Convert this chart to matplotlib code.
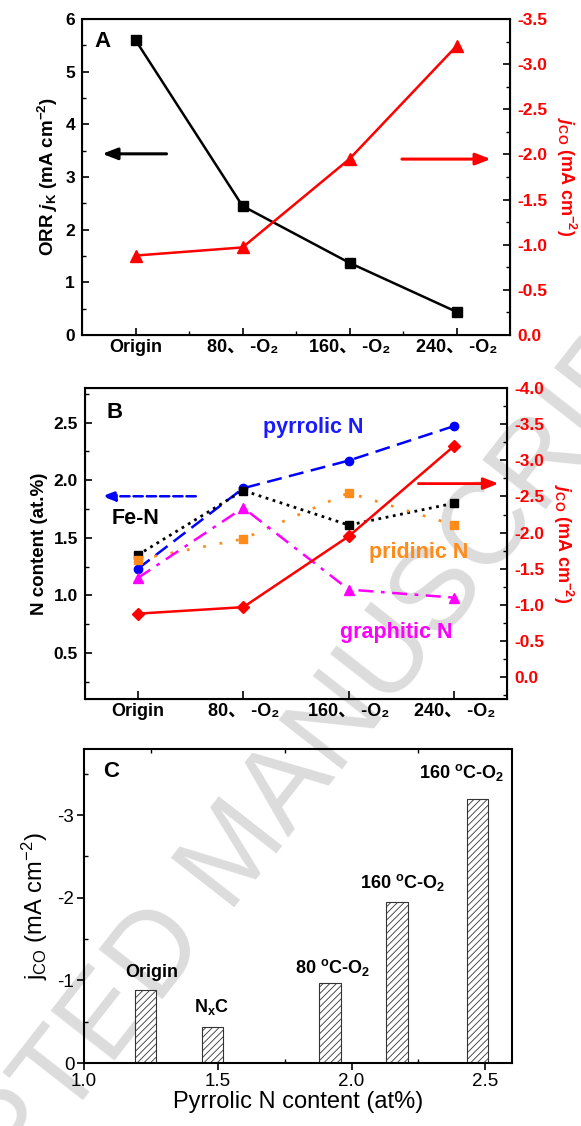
import numpy as np
import matplotlib
matplotlib.use("Agg")
import matplotlib.pyplot as plt
from matplotlib.ticker import MultipleLocator, FormatStrFormatter

plt.rcParams['font.family'] = ['Liberation Sans', 'Noto Sans CJK SC', 'DejaVu Sans']
plt.rcParams['mathtext.fontset'] = 'custom'
plt.rcParams['mathtext.rm'] = 'Liberation Sans'
plt.rcParams['mathtext.bf'] = 'Liberation Sans:bold'
plt.rcParams['mathtext.it'] = 'Liberation Sans:italic:bold'
plt.rcParams['axes.unicode_minus'] = False
plt.rcParams['hatch.linewidth'] = 0.6

# ---------- data ----------
samples = ["Origin", "80、 -O₂", "160、 -O₂", "240、 -O₂"]
orr_jk = [5.6, 2.45, 1.37, 0.44]
j_co = [-0.88, -0.97, -1.95, -3.2]

pyrrolic_n = [1.23, 1.93, 2.17, 2.47]
fe_n = [1.35, 1.91, 1.61, 1.80]
pridinic_n = [1.31, 1.49, 1.89, 1.61]
graphitic_n = [1.15, 1.76, 1.05, 0.98]

bar_pyrrolic = [1.23, 1.48, 1.92, 2.17, 2.47]
bar_jco = [-0.88, -0.44, -0.97, -1.95, -3.2]
bar_names = ["Origin", r"N$_\mathbf{x}$C", r"80 $^\mathbf{o}$C-O$_\mathbf{2}$",
             r"160 $^\mathbf{o}$C-O$_\mathbf{2}$", r"160 $^\mathbf{o}$C-O$_\mathbf{2}$"]

x = np.arange(len(samples))
W, H = 581, 1126


def box(l, r, t, b):
    return [l / W, 1 - b / H, (r - l) / W, (b - t) / H]


fig = plt.figure(figsize=(W / 100, H / 100), dpi=100)

# watermark behind everything
fig.text(237 / W, 1 - 855 / H, "ACCEPTED MANUSCRIPT", fontsize=84, color='#dcdcdc',
         rotation=52, ha='center', va='center', zorder=-1, family='Liberation Sans')

red = '#ff0000'
TICK = 12.5
CAT = 13
LAB = 13.5


def style_cat(ax, minor=True):
    ax.set_xlim(-0.5, 3.5)
    ax.set_xticks(x)
    ax.set_xticklabels(samples, fontweight='bold', fontsize=CAT)
    if minor:
        ax.set_xticks(x[:-1] + 0.5, minor=True)
    ax.tick_params(axis='x', which='both', direction='in', top=False, pad=3)
    ax.tick_params(axis='x', which='major', length=5, width=1.2)
    ax.tick_params(axis='x', which='minor', length=3, width=1.0)
    ax.tick_params(axis='y', which='major', direction='in', length=5, width=1.2, right=False,
                   labelsize=TICK, pad=5)
    ax.tick_params(axis='y', which='minor', direction='in', length=3, width=1.0, right=False)
    for lab in ax.get_yticklabels():
        lab.set_fontweight('bold')
    for s in ax.spines.values():
        s.set_linewidth(1.5)
    ax.set_facecolor('none')


def style_right(ax2):
    ax2.tick_params(axis='y', which='major', direction='in', length=5, width=1.2,
                    labelsize=TICK, labelcolor=red, pad=5)
    ax2.tick_params(axis='y', which='minor', direction='in', length=3, width=1.0)
    ax2.yaxis.set_major_formatter(FormatStrFormatter('%.1f'))
    for lab in ax2.get_yticklabels():
        lab.set_fontweight('bold')
    ax2.set_facecolor('none')


# ---------- panel A ----------
axA = fig.add_axes(box(82, 510, 19, 335))
axA.plot(x, orr_jk, '-s', color='k', lw=1.8, ms=7, zorder=3)
axA.set_ylim(0, 6)
axA.yaxis.set_major_locator(MultipleLocator(1))
axA.yaxis.set_minor_locator(MultipleLocator(0.5))
style_cat(axA)
axA.set_ylabel(r"ORR $\mathit{j}_\mathbf{K}$ (mA cm$^\mathbf{-2}$)", fontsize=LAB,
               fontweight='bold', labelpad=4)
axA.text(-0.31, 5.58, "A", fontsize=16, fontweight='bold', ha='center', va='center')
axA.annotate('', xy=(-0.31, 3.44), xytext=(0.29, 3.44),
             arrowprops=dict(arrowstyle='-|>,head_length=0.9,head_width=0.35',
                             color='k', lw=2.2, shrinkA=0, shrinkB=0))
axA.annotate('', xy=(3.32, 3.34), xytext=(2.49, 3.34),
             arrowprops=dict(arrowstyle='-|>,head_length=0.9,head_width=0.35',
                             color=red, lw=2.2, shrinkA=0, shrinkB=0))

axA2 = axA.twinx()
axA2.plot(x, j_co, '-^', color=red, lw=1.8, ms=8, zorder=3)
axA2.set_ylim(0, -3.5)
axA2.yaxis.set_major_locator(MultipleLocator(0.5))
axA2.yaxis.set_minor_locator(MultipleLocator(0.25))
style_right(axA2)
axA2.set_ylabel(r"$\mathit{j}_\mathbf{CO}$ (mA cm$^\mathbf{-2}$)", fontsize=LAB - 0.5,
                fontweight='bold', color=red, rotation=270, labelpad=22)

# ---------- panel B ----------
axB = fig.add_axes(box(85, 507, 388, 699))
axB.plot(x, pyrrolic_n, '--o', color='#0000ff', lw=1.8, ms=6, dashes=(6, 3), zorder=3)
axB.plot(x, fe_n, ':s', color='k', lw=2.0, ms=6, zorder=3)
axB.plot(x, pridinic_n, 's', color='#ff8c1a', ms=6, linestyle=(0, (1, 5)), lw=2.0, zorder=3)
axB.plot(x, graphitic_n, '-.^', color='#ff00ff', lw=1.8, ms=7, dashes=(6, 3, 1.5, 3), zorder=3)
axB.set_ylim(0.1, 2.8)
axB.yaxis.set_major_formatter(FormatStrFormatter('%.1f'))
axB.yaxis.set_minor_locator(MultipleLocator(0.25))
style_cat(axB, minor=False)
axB.tick_params(axis='x', which='major', length=6)
axB.set_yticks([0.5, 1.0, 1.5, 2.0, 2.5])
for lab in axB.get_yticklabels():
    lab.set_fontweight('bold')
axB.set_ylabel("N content (at.%)", fontsize=LAB, fontweight='bold', labelpad=4)
axB.text(-0.22, 2.59, "B", fontsize=16, fontweight='bold', ha='center', va='center')
axB.text(1.66, 2.46, "pyrrolic N", fontsize=15.5, fontweight='bold', color='#1a1aff',
         ha='center', va='center')
axB.text(-0.02, 1.67, "Fe-N", fontsize=15.5, fontweight='bold', color='k',
         ha='center', va='center')
axB.text(2.66, 1.37, "pridinic N", fontsize=15.5, fontweight='bold', color='#ff8c1a',
         ha='center', va='center')
axB.text(2.45, 0.68, "graphitic N", fontsize=15.5, fontweight='bold', color='#ff00ff',
         ha='center', va='center')
axB.annotate('', xy=(-0.34, 1.86), xytext=(0.55, 1.86),
             arrowprops=dict(arrowstyle='-|>,head_length=0.8,head_width=0.3',
                             color='#0000ff', lw=1.8, linestyle='--', shrinkA=0, shrinkB=0))
axB.annotate('', xy=(3.42, 1.97), xytext=(2.66, 1.97),
             arrowprops=dict(arrowstyle='-|>,head_length=0.9,head_width=0.35',
                             color=red, lw=2.0, shrinkA=0, shrinkB=0))

axB2 = axB.twinx()
axB2.plot(x, j_co, '-D', color=red, lw=1.8, ms=6.5, zorder=3)
axB2.set_ylim(0.3, -4.0)
axB2.yaxis.set_minor_locator(MultipleLocator(0.25))
style_right(axB2)
axB2.set_yticks(np.arange(0, -4.01, -0.5))
for lab in axB2.get_yticklabels():
    lab.set_fontweight('bold')
axB2.set_ylabel(r"$\mathit{j}_\mathbf{CO}$ (mA cm$^\mathbf{-2}$)", fontsize=LAB - 0.5,
                fontweight='bold', color=red, rotation=270, labelpad=22)

# ---------- panel C ----------
axC = fig.add_axes(box(84, 512, 749, 1063))
axC.bar(bar_pyrrolic, bar_jco, width=0.08, color='white', edgecolor='#333333',
        lw=0.8, hatch='/////', zorder=2)
axC.set_xlim(1.0, 2.6)
axC.set_ylim(0, -3.8)
axC.xaxis.set_major_locator(MultipleLocator(0.5))
axC.xaxis.set_minor_locator(MultipleLocator(0.25))
axC.yaxis.set_major_locator(MultipleLocator(1))
axC.yaxis.set_minor_locator(MultipleLocator(0.5))
axC.xaxis.set_major_formatter(FormatStrFormatter('%.1f'))
axC.yaxis.set_major_formatter(FormatStrFormatter('%d'))
axC.tick_params(which='major', direction='out', length=5, width=1.2, labelsize=13.5, pad=2)
axC.tick_params(which='minor', direction='in', length=3, width=1.0)
axC.tick_params(axis='x', which='minor', top=True)
for s in axC.spines.values():
    s.set_linewidth(1.5)
axC.set_facecolor('none')
axC.set_xlabel("Pyrrolic N content (at%)", fontsize=17, labelpad=1)
axC.set_ylabel(r"j$_\mathrm{CO}$ (mA cm$^\mathrm{-2}$)", fontsize=17, labelpad=5)
axC.text(1.10, -3.53, "C", fontsize=16, fontweight='bold', ha='center', va='center')

label_pos = [(1.254, -1.09), (1.478, -0.68), (1.93, -1.16), (2.19, -2.18), (2.41, -3.52)]
for name, (lx, ly) in zip(bar_names, label_pos):
    axC.text(lx, ly, name, fontsize=13, fontweight='bold', ha='center', va='center')

fig.savefig("out.png", dpi=100)
